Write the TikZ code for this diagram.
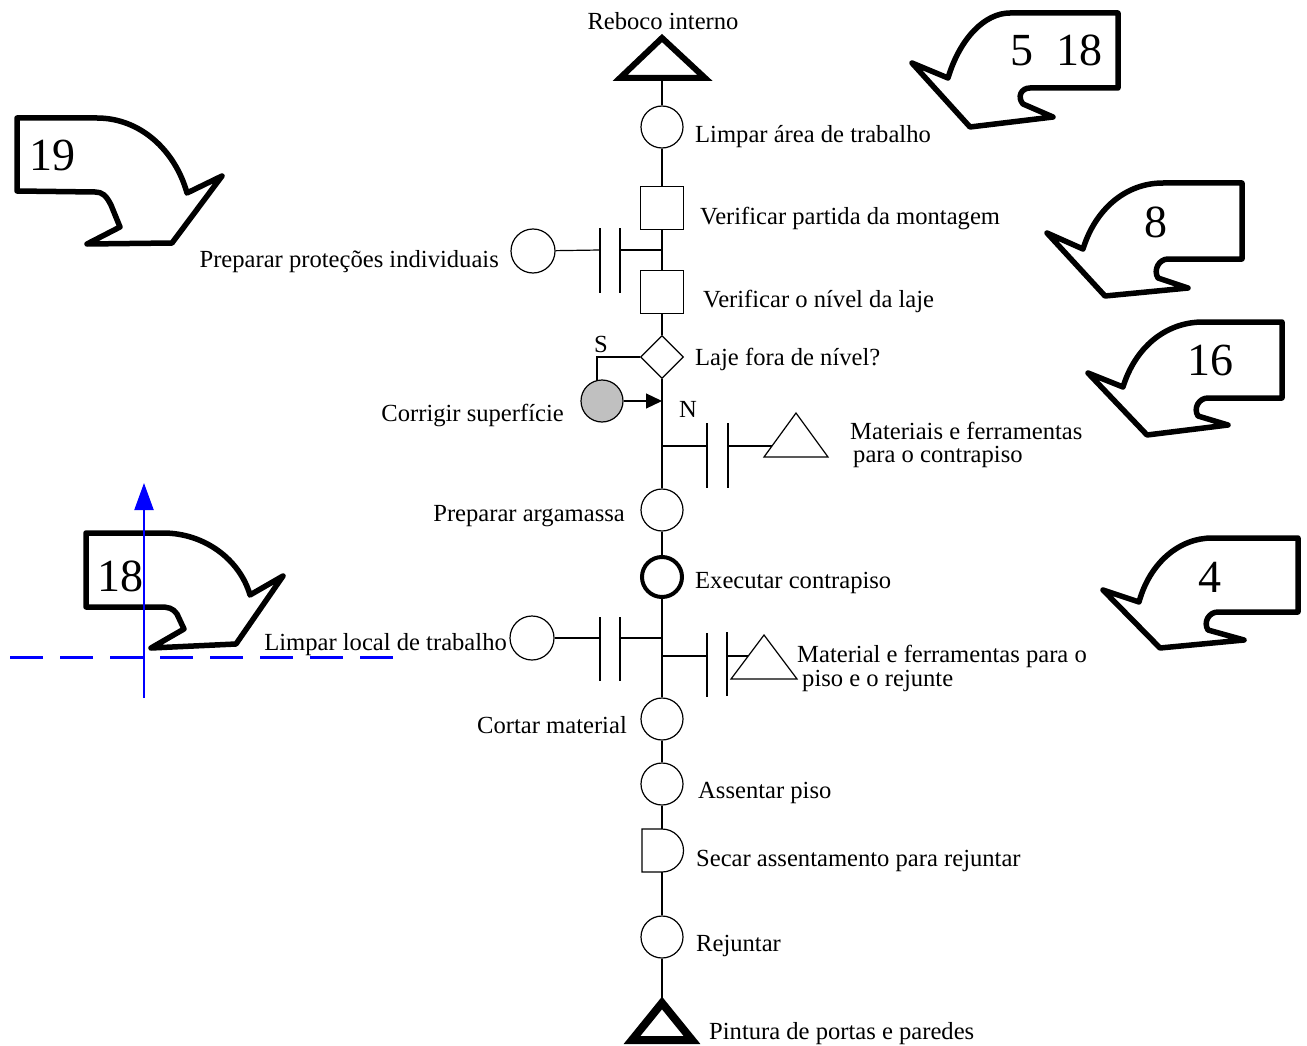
\documentclass[tikz,border=0pt]{standalone}
\usepackage{fontspec}
\setmainfont{Liberation Serif}
\usetikzlibrary{shapes.geometric,arrows.meta}
\begin{document}
\begin{tikzpicture}[x=1pt,y=-1pt,
  every node/.style={font=\fontsize{24.6}{28}\selectfont},
  op/.style={circle,draw,minimum size=42pt,inner sep=0pt,line width=1.2pt},
  insp/.style={rectangle,draw,minimum size=43pt,inner sep=0pt,line width=1.2pt},
  decis/.style={diamond,draw,aspect=1,minimum size=43pt,inner sep=0pt,line width=1.2pt},
  flow/.style={line width=1.2pt},
  bar/.style={line width=1.4pt},
  lbl/.style={inner sep=0pt},
  num/.style={font=\fontsize{46}{50}\selectfont,inner sep=0pt},
  bigarrow/.style={draw,fill=white,line width=5.5pt,line join=round},
  axis/.style={draw={rgb,255:red,0;green,0;blue,255},line width=2pt}
]
\useasboundingbox (0,0) rectangle (1307,1046);

% ---- big numbered arrows ----
\draw[bigarrow] (17,118) -- (97,118) .. controls (140,118) and (175,150) .. (187,193)
  -- (222,176) -- (172,243) -- (87,244) -- (120,227) -- (111,205)
  .. controls (106,195) and (102,192) .. (95,192) -- (17,191) -- cycle;
\node[num] (n19) at (52,155) {19};

\draw[bigarrow] (86,533) -- (163,533) .. controls (205,533) and (240,560) .. (250,595)
  -- (283,576) -- (236,644) -- (151,648) -- (184,629) -- (177,614)
  .. controls (173,608) and (168,607) .. (160,607) -- (86,607) -- cycle;
\node[num] (n18) at (120,576) {18};

\draw[bigarrow] (1118,13) -- (1118,88) -- (1030,88) .. controls (1021,88) and (1017,97) .. (1023,104)
  -- (1053,117) -- (970,127) -- (912,63) -- (948,78)
  .. controls (960,38) and (985,13) .. (1010,13) -- cycle;
\node[num] (n518) at (1056,50) {5\ \ 18};

\draw[bigarrow] (1242,183) -- (1242,259) -- (1168,259) .. controls (1159,259) and (1153,270) .. (1158,278)
  -- (1188,288) -- (1105,296) -- (1047,233) -- (1083,249)
  .. controls (1095,210) and (1125,183) .. (1163,183) -- cycle;
\node[num] (n8) at (1156,222) {8};

\draw[bigarrow] (1282,322) -- (1282,398) -- (1208,398) .. controls (1199,398) and (1193,408) .. (1198,416)
  -- (1228,425) -- (1147,435) -- (1088,373) -- (1123,387)
  .. controls (1135,348) and (1165,322) .. (1203,322) -- cycle;
\node[num] (n16) at (1210,360) {16};

\draw[bigarrow] (1298,538) -- (1298,612) -- (1218,612) .. controls (1209,612) and (1203,622) .. (1208,630)
  -- (1244,640) -- (1160,648) -- (1103,590) -- (1139,602)
  .. controls (1150,562) and (1180,538) .. (1212,538) -- cycle;
\node[num] (n4) at (1210,577) {4};

% ---- blue reference axes ----
\coordinate (axO) at (144,698);
\coordinate (axTop) at (144,483);
\coordinate (axL) at (10,657);
\coordinate (axR) at (397,657);
\draw[axis,-{Triangle[length=27pt,width=19pt]}] (axO) -- (axTop);
\draw[axis,line width=3pt,dash pattern=on 33pt off 17pt] (axL) -- (axR);

% ---- start and end (storage triangles) ----
\draw[line width=6pt,line join=miter] (662,38) -- (705,78) -- (620,78) -- cycle;
\coordinate (reboco) at (662,81);
\node[lbl,anchor=base] (treboco) at (663,30) {Reboco interno};

\draw[line width=8pt,line join=miter] (662,1003) -- (692,1040) -- (632,1040) -- cycle;
\coordinate (pintura) at (662,998);
\node[lbl,anchor=base west] (tpintura) at (709,1039) {Pintura de portas e paredes};

% ---- process steps ----
\node[op] (limpar) at (662,127) {};
\node[lbl,anchor=base west] (tlimpar) at (695,143) {Limpar área de trabalho};

\node[insp] (partida) at (662,208) {};
\node[lbl,anchor=base west] (tpartida) at (700,224) {Verificar partida da montagem};

\node[insp] (nivel) at (662,292) {};
\node[lbl,anchor=base west] (tnivel) at (703,307) {Verificar o nível da laje};

\node[decis] (laje) at (662,357) {};
\node[lbl,anchor=base west] (tlaje) at (695,365) {Laje fora de nível?};
\node[lbl,anchor=base] (tS) at (601,352) {S};
\node[lbl,anchor=base] (tN) at (688,417) {N};

\node[op,fill={rgb,255:red,192;green,192;blue,192}] (corrigir) at (602,401) {};
\node[lbl,anchor=base east] (tcorrigir) at (564,421) {Corrigir superfície};

\node[op] (argamassa) at (662,510) {};
\node[lbl,anchor=base east] (targamassa) at (625,521) {Preparar argamassa};

\node[op,line width=4pt,minimum size=40pt] (executar) at (662,577) {};
\node[lbl,anchor=base west] (texecutar) at (695,588) {Executar contrapiso};

\node[op] (cortar) at (662,719) {};
\node[lbl,anchor=base east] (tcortar) at (627,733) {Cortar material};

\node[op] (assentar) at (662,784) {};
\node[lbl,anchor=base west] (tassentar) at (698,798) {Assentar piso};

% delay (D shape)
\draw[flow] (642,829) -- (662,829) arc (-90:90:21.5) -- (642,872) -- cycle;
\coordinate (secarTop) at (662,829);
\coordinate (secarBot) at (662,872);
\node[lbl,anchor=base west] (tsecar) at (696,866) {Secar assentamento para rejuntar};

\node[op] (rejuntar) at (662,937) {};
\node[lbl,anchor=base west] (trejuntar) at (696,951) {Rejuntar};

% ---- main flow line ----
\draw[flow] (reboco) -- (limpar);
\draw[flow] (limpar) -- (partida);
\draw[flow] (partida) -- (nivel);
\draw[flow] (nivel) -- (laje);
\draw[flow] (laje) -- (argamassa);
\draw[flow] (argamassa) -- (executar);
\draw[flow] (executar) -- (cortar);
\draw[flow] (cortar) -- (assentar);
\draw[flow] (assentar) -- (secarTop);
\draw[flow] (secarBot) -- (rejuntar);
\draw[flow] (rejuntar) -- (pintura);

% ---- decision branch ----
\coordinate (jS) at (597,357);
\coordinate (jC) at (597,381);
\coordinate (jN) at (662,401);
\draw[flow] (laje.west) -- (jS) -- (jC);
\draw[flow,-{Triangle[length=16pt,width=15pt]}] (corrigir.east) -- (jN);

% ---- side inputs with double bars ----
% Preparar protecoes individuais
\node[op,minimum size=44pt] (protecoes) at (533,251) {};
\node[lbl,anchor=base east] (tprotecoes) at (499,267) {Preparar proteções individuais};
\coordinate (pA) at (600,250); \coordinate (pB) at (620,250); \coordinate (pJ) at (662,250);
\draw[flow] (protecoes) -- (pA);
\draw[bar] (600,228) -- (600,293);
\draw[bar] (620,228) -- (620,293);
\draw[flow] (pB) -- (pJ);

% Materiais e ferramentas para o contrapiso
\coordinate (m1J) at (662,446); \coordinate (m1A) at (707,446); \coordinate (m1B) at (728,446);
\draw[flow] (m1J) -- (m1A);
\draw[bar] (707,423) -- (707,488);
\draw[bar] (728,423) -- (728,488);
\draw[flow] (796,413) -- (828,457) -- (764,457) -- cycle;
\coordinate (mat1) at (772,446);
\draw[flow] (m1B) -- (mat1);
\node[lbl,anchor=base west] (tmat1a) at (850,439) {Materiais e ferramentas};
\node[lbl,anchor=base west] (tmat1b) at (853,462) {para o contrapiso};

% Limpar local de trabalho
\node[op,minimum size=44pt] (local) at (532,638) {};
\node[lbl,anchor=base east] (tlocal) at (507,650) {Limpar local de trabalho};
\coordinate (lA) at (600,638); \coordinate (lB) at (620,638); \coordinate (lJ) at (662,638);
\draw[flow] (local) -- (lA);
\draw[bar] (600,617) -- (600,681);
\draw[bar] (620,617) -- (620,681);
\draw[flow] (lB) -- (lJ);

% Material e ferramentas para o piso e o rejunte
\coordinate (m2J) at (662,656); \coordinate (m2A) at (707,656); \coordinate (m2B) at (727,656);
\draw[flow] (m2J) -- (m2A);
\draw[bar] (707,633) -- (707,697);
\draw[bar] (727,632) -- (727,696);
\draw[flow] (764,635) -- (797,679) -- (731,679) -- cycle;
\coordinate (mat2) at (748,656);
\draw[flow] (m2B) -- (mat2);
\node[lbl,anchor=base west] (tmat2a) at (797,662) {Material e ferramentas para o};
\node[lbl,anchor=base west] (tmat2b) at (802,686) {piso e o rejunte};
\end{tikzpicture}
\end{document}
